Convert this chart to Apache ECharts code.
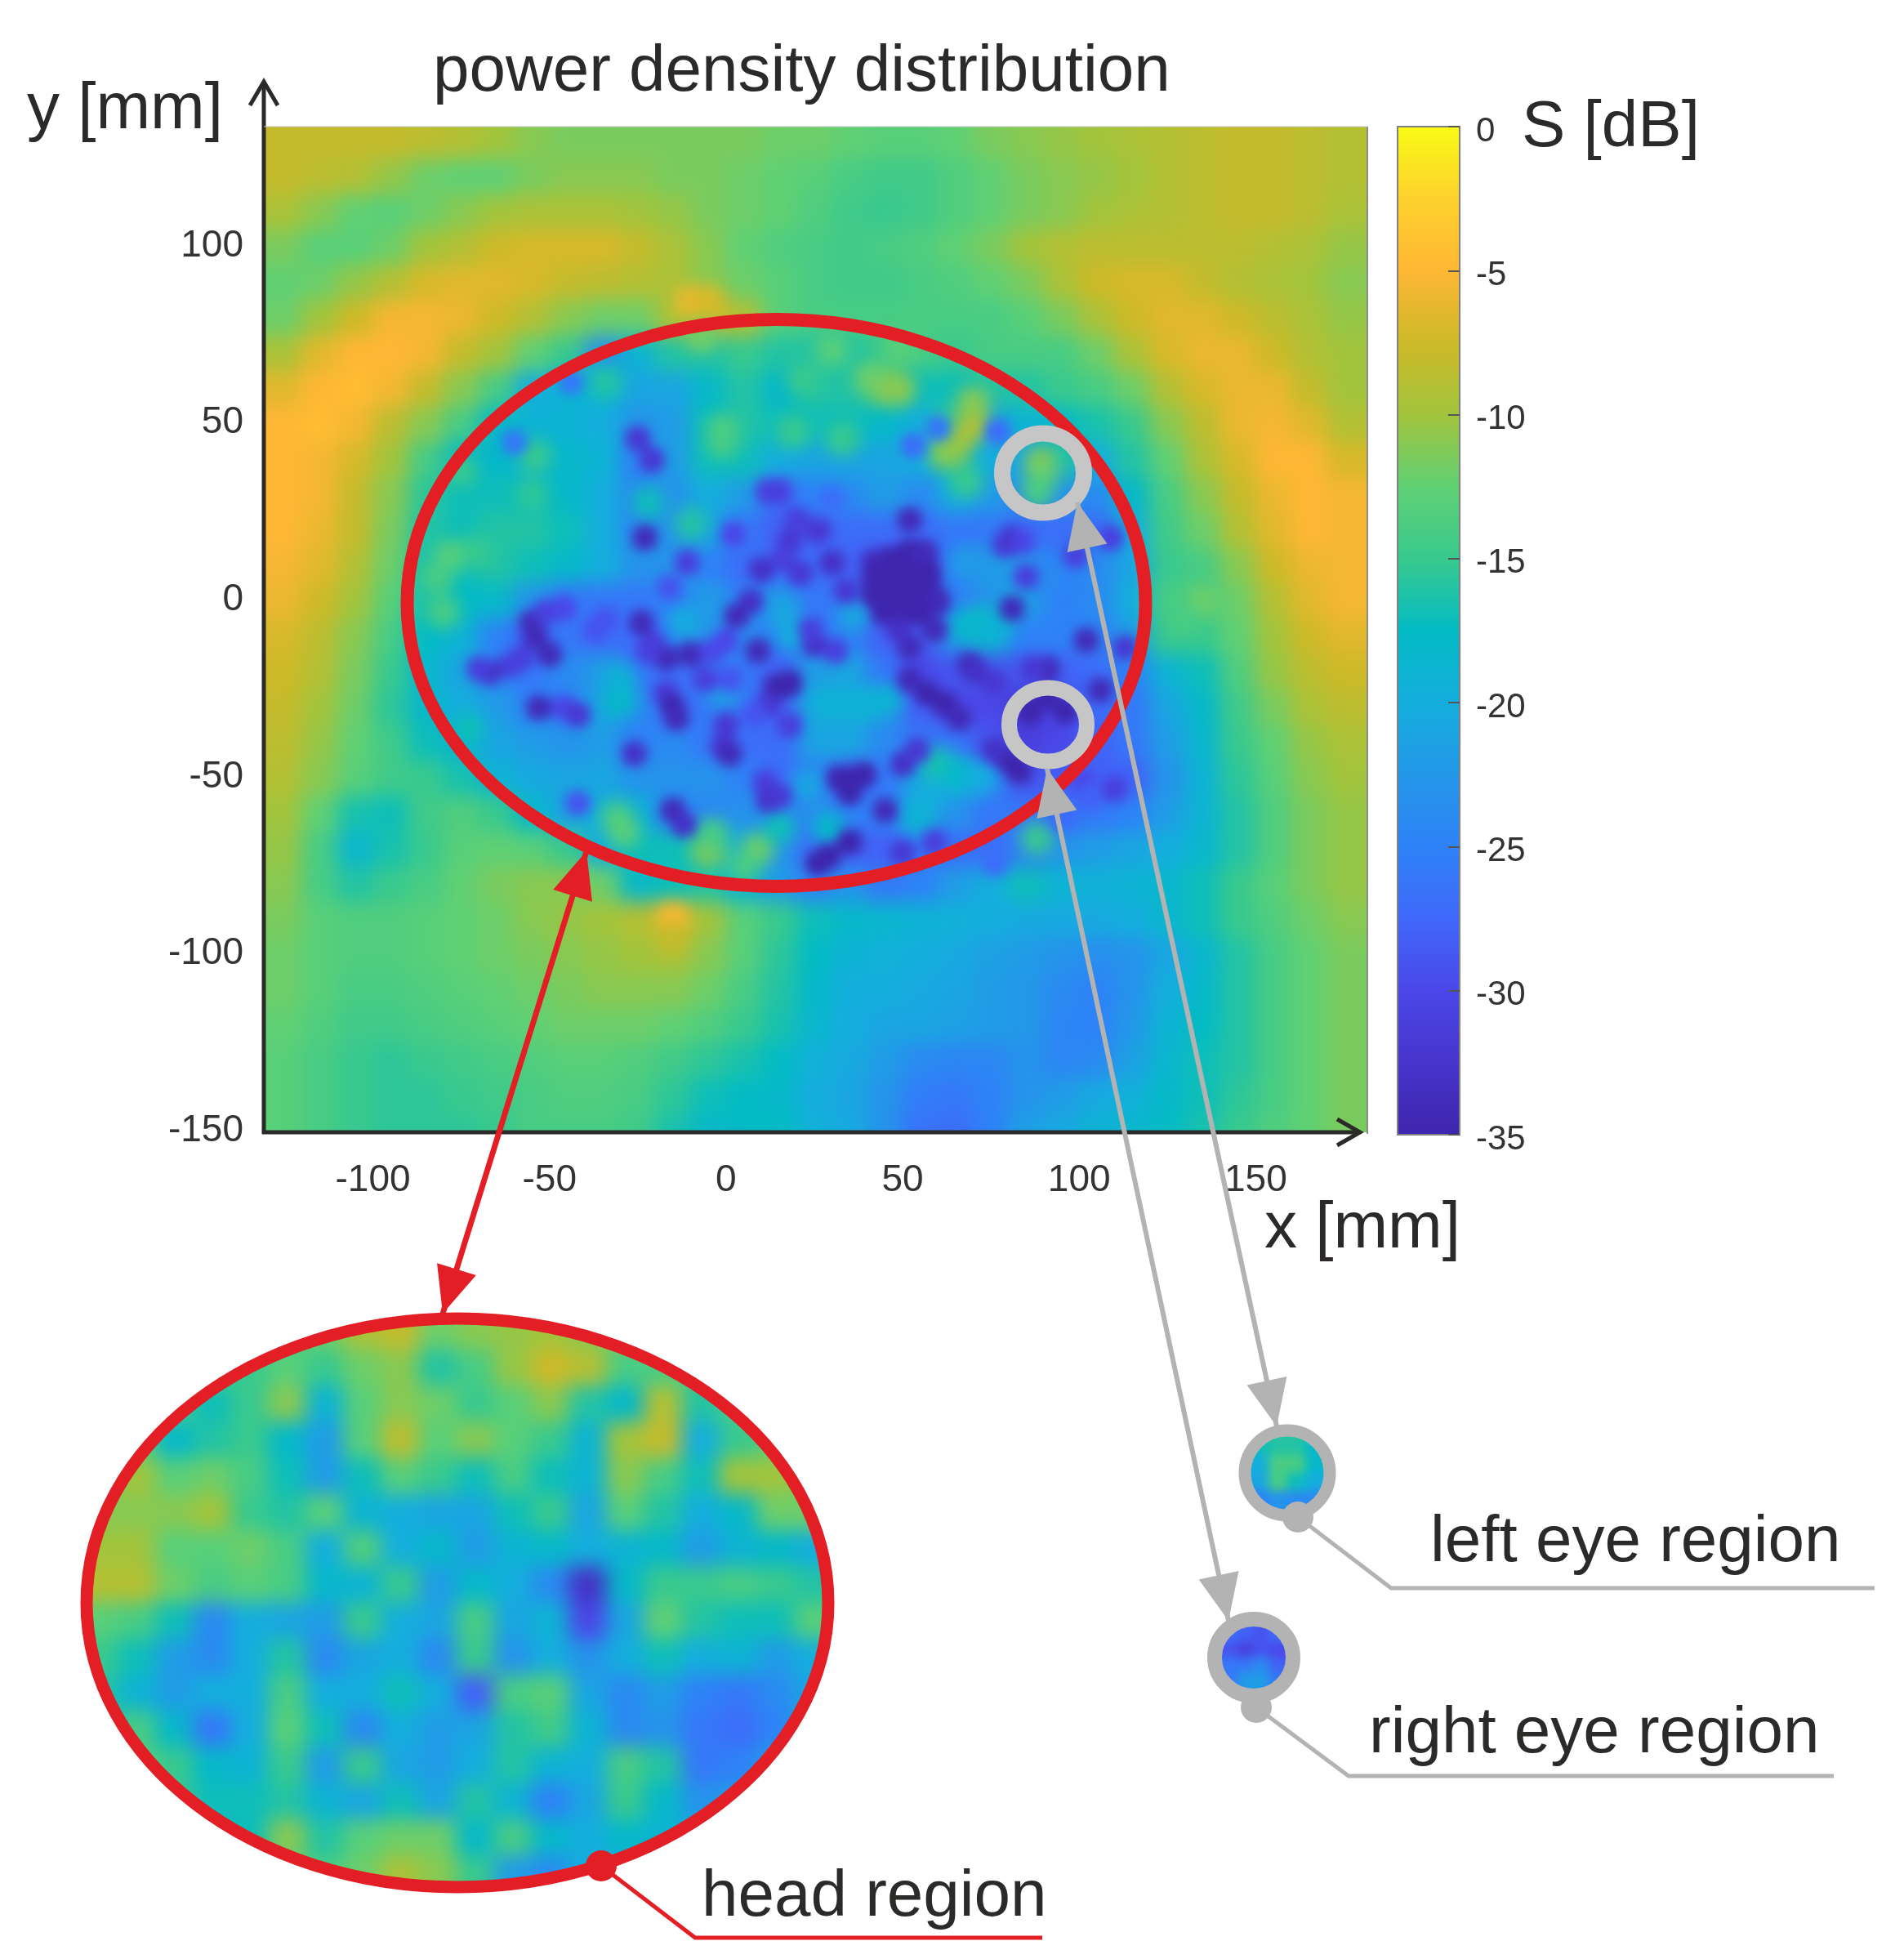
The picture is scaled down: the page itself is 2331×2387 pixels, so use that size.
<!DOCTYPE html>
<html>
<head>
<meta charset="utf-8">
<title>power density distribution</title>
<script src="https://cdn.jsdelivr.net/npm/echarts@6/dist/echarts.min.js"></script>
<style>
html, body { margin: 0; padding: 0; background: #fff; }
.clip, .blur, .chart { position: absolute; left: 0; top: 0; width: 2331px; height: 2387px; }
</style>
</head>
<body>
<div class="clip" style="clip-path: inset(155px 657px 1001px 323px)">
  <div class="blur" style="filter: blur(12px)"><div class="chart" id="field"></div></div>
</div>
<div class="clip" style="clip-path: inset(155px 657px 1001px 323px)">
  <div class="blur" style="filter: blur(10px)"><div class="chart" id="glow"></div></div>
</div>
<div class="clip" style="clip-path: inset(155px 657px 1001px 323px)">
  <div class="blur" style="filter: blur(7px)"><div class="chart" id="detail"></div></div>
</div>
<div class="clip" style="clip-path: ellipse(454px 348px at 560px 1962px)">
  <div class="blur" style="filter: blur(12px)"><div class="chart" id="head"></div></div>
</div>
<div class="clip" style="clip-path: path('M 1528 1803 a 48 47 0 1 0 96 0 a 48 47 0 1 0 -96 0 Z M 1493 2029 a 42 40 0 1 0 84 0 a 42 40 0 1 0 -84 0 Z')">
  <div class="blur" style="filter: blur(6px)"><div class="chart" id="eyes"></div></div>
</div>
<div class="chart" id="front"></div>

<script>
// tick labels
var xTicks = [-100, -50, 0, 50, 100, 150];
var yTicks = [-150, -100, -50, 0, 50, 100];

// colour bar, dB, every 2.5 from -35 up to 0
var barColors = ['#3e25ad', '#4734cc', '#4a47e8', '#4068fa', '#2e82f7', '#2397e8', '#14aedd', '#03bbc4',
    '#38c98e', '#60d074', '#a2c43c', '#cdb928', '#ffb734', '#fdd12d', '#f9fb15'];

// power density, 10 mm cells
var fieldX = [-125, -115, -105, -95, -85, -75, -65, -55, -45, -35, -25, -15, -5, 5, 15, 25, 35, 45, 55, 65, 75, 85, 95, 105, 115, 125, 135, 145, 155, 165, 175];
var fieldY = [130, 120, 110, 100, 90, 80, 70, 60, 50, 40, 30, 20, 10, 0, -10, -20, -30, -40, -50, -60, -70, -80, -90, -100, -110, -120, -130, -140, -150];
var fieldDb = [
    [-8, -8, -8, -8, -8.5, -9, -10, -11, -11.5, -11.5, -11.5, -11.5, -11.5, -11.5, -12, -12, -12.5, -13, -13, -12.5, -11.5, -11, -10.5, -10, -9.5, -9, -8.5, -8, -8, -8.5, -9],
    [-8, -8.5, -9, -10.5, -12, -12.5, -12.5, -11.5, -11, -11, -11, -11.5, -11.5, -12, -12.5, -13, -14, -14.5, -14.5, -13.5, -12.5, -11.5, -11, -10.5, -10, -9, -8.5, -8, -8, -8.5, -9],
    [-9.5, -11, -12.5, -13, -12, -11, -10, -9.5, -9.5, -9.5, -10, -10.5, -11.5, -12, -12.5, -13.5, -14.5, -15, -14.5, -13.5, -12.5, -11.5, -11, -10, -9.5, -9, -8.5, -8, -8, -8.5, -9.5],
    [-11.5, -13, -13, -12, -10, -9, -7.5, -7, -7, -7, -8, -9.5, -11, -12.5, -13.5, -14, -14.5, -14, -13.5, -12.5, -11.5, -10, -9, -8.5, -8.5, -8.5, -8.5, -8.5, -9, -9.5, -10.5],
    [-12.5, -12, -10.5, -9, -7, -6.5, -6.5, -7, -8, -8.5, -9, -9.5, -11, -12, -13, -14, -14.5, -14.5, -14, -13.5, -12.5, -11.5, -9.5, -7.5, -7, -7, -8, -9, -9.5, -10, -11],
    [-12, -10, -7.5, -5.5, -5.5, -6, -7.5, -9, -11, -12, -12, -9.5, -7.5, -9, -13, -14, -14, -14, -14, -14, -14, -13, -11.5, -9.5, -7.5, -6.5, -6.5, -7.5, -8.5, -9.5, -10.5],
    [-9.5, -6.5, -5, -5, -5.5, -8, -10, -12.5, -15, -23, -19, -16, -16, -15, -16, -16, -16, -15, -14, -15, -14, -14, -14, -12, -9.5, -7, -6, -6, -7.5, -9, -10],
    [-6.5, -5, -4.5, -5.5, -8, -11, -14, -20, -19, -19, -21, -21, -18, -16, -18, -16, -16, -15, -17, -17, -16, -16, -15, -14, -12, -9, -7, -6, -6, -8, -10],
    [-5, -4.5, -5.5, -8.5, -11, -14, -18, -19, -19, -20, -23, -22, -17, -16, -17, -17, -17, -18, -20, -15, -21, -19, -18, -16.5, -15, -11, -8.5, -6, -5.5, -6.5, -9],
    [-5, -5.5, -7, -10, -14, -18, -18, -19, -18, -19, -25, -22, -17, -17, -20, -21, -21, -21, -20, -17, -20, -21, -16, -20, -16, -12.5, -9.5, -7, -5, -5, -7],
    [-5, -5.5, -8, -11, -15.5, -17, -17, -17, -18, -20, -24, -23, -20, -22, -27, -25, -24, -22, -24, -20, -22, -24, -23, -24, -18, -14, -11, -8, -6, -5, -5.5],
    [-5, -6, -8, -11.5, -16, -17, -16, -16, -17, -20, -24, -23, -21, -26, -28, -28, -27, -27, -27, -26, -26, -27, -27, -27, -20, -14.5, -12, -9, -6.5, -5, -5.5],
    [-5.5, -6.5, -9, -12, -16.5, -17, -16, -17, -18, -20, -23, -23, -25, -27, -27, -27, -28, -30, -32, -25, -22, -23, -25, -24, -21, -15, -14, -11, -7.5, -6, -5.5],
    [-6, -7.5, -10, -13, -16.5, -17.5, -18, -23, -26, -26, -26, -25, -22, -25, -23, -26, -26, -32, -34, -25, -23, -22, -25, -24, -20, -14, -14, -12, -9, -6.5, -5.5],
    [-7, -8.5, -11, -14, -17.5, -19, -25, -28, -26, -27, -27, -26, -23, -24, -25, -26, -25, -28, -28, -23, -19, -25, -25, -25, -22, -15, -15, -12.5, -10, -7.5, -6.5],
    [-7.5, -9, -11.5, -15, -18.5, -21, -25, -26, -24, -22, -26, -27, -26, -26, -28, -22, -21, -26, -30, -29, -29, -29, -28, -27, -25, -19, -17, -13.5, -10.5, -8.5, -7.5],
    [-8, -10, -12, -15.5, -18, -20, -22, -25, -25, -21, -24, -27, -26, -26, -28, -21, -20, -23, -28, -30, -30, -32, -30, -27, -26, -21, -18, -14.5, -11.5, -9.5, -8.5],
    [-8.5, -10.5, -12.5, -14.5, -17, -19, -21, -22, -23, -22, -25, -24, -26, -27, -27, -22, -21, -24, -26, -26, -29, -31, -30, -28, -26, -22, -18.5, -15, -12.5, -10.5, -9.5],
    [-9, -11, -13, -14.5, -15, -16.5, -19, -20.5, -21, -21, -23, -23, -23, -25, -27, -25, -28, -26, -21, -20, -25, -29, -28, -28, -28, -23, -19, -15.5, -13, -11, -10],
    [-10, -12.5, -16.5, -17, -14.5, -13.5, -15, -18, -21, -20, -19, -25, -24, -23, -25, -24, -25, -25, -22, -23, -26, -26, -27, -26, -25, -22, -19, -16, -13.5, -11.5, -10.5],
    [-10.5, -14, -18.5, -16.5, -15, -13, -12.5, -13, -15, -20, -17, -17, -16, -20, -23, -27, -28, -28, -26, -27, -27, -25, -23, -22, -21, -20, -18.5, -16, -13.5, -11.5, -10.5],
    [-11, -14, -16, -15, -14, -12.5, -11.5, -11, -11, -12, -18, -17, -16, -19, -22, -25, -23, -26, -25, -22, -20, -17, -19, -19.5, -19, -18.5, -17, -15, -13, -11.5, -10.5],
    [-11.5, -13, -13.5, -13.5, -13, -12.5, -12, -11, -10.5, -10, -9, -8, -10, -13, -15, -17, -18, -18.5, -19, -19.5, -20, -20.5, -20.5, -20.5, -20, -18.5, -17, -15, -13.5, -12, -11],
    [-12, -13, -13.5, -13.5, -13, -12.5, -12, -11.5, -11, -10.5, -10, -9.5, -11, -13, -15.5, -17.5, -19, -19.5, -20, -20.5, -21.5, -22, -23, -23.5, -23, -21, -18.5, -16, -14, -12.5, -11.5],
    [-12, -13, -14, -14, -13.5, -13, -12.5, -12, -11.5, -11, -11, -11, -12, -14, -16, -18, -20, -20, -20.5, -21, -22, -22.5, -24, -25, -23, -20, -18, -16, -14, -12.5, -11.5],
    [-12.5, -13.5, -14.5, -14.5, -14, -13.5, -13, -12.5, -12, -12, -12, -12.5, -13.5, -15, -16.5, -18.5, -20, -21, -21, -21.5, -22, -22.5, -24.5, -25, -22.5, -19, -17.5, -16, -14, -12.5, -11.5],
    [-13, -14, -15, -15.5, -15, -14.5, -14, -13.5, -13, -13, -13.5, -14.5, -15.5, -16.5, -17.5, -19.5, -20.5, -22, -24, -24.5, -24.5, -23, -24.5, -24, -21.5, -18.5, -17, -16, -14, -12.5, -11.5],
    [-13, -14, -15, -15.5, -15.5, -15, -14.5, -14, -13.5, -13.5, -14, -15.5, -17, -17.5, -18, -20, -21, -23, -25.5, -26, -25, -23, -22, -20.5, -19.5, -18, -17, -15.5, -14, -12.5, -11.5],
    [-13, -14, -15, -15.5, -15.5, -15.5, -15, -14, -14, -14, -14.5, -16.5, -18, -17.5, -17.5, -19.5, -20.5, -23, -26.5, -27, -25, -21.5, -20.5, -19, -18.5, -17.5, -16.5, -15, -13.5, -12.5, -11.5]
];

// small spots on top of the 10 mm cells: x, y, dB
var darkSpots = [
    // big dark patch
    [42, 11, -34], [47, 12, -35], [52, 14, -35], [56, 14, -34], [42, 7, -35], [47, 7, -35], [52, 8, -35], [57, 8, -35],
    [42, 2, -35], [47, 2, -35], [52, 3, -35], [57, 3, -35], [60, 0, -34], [45, -3, -35], [50, -3, -35], [55, -3, -35],
    [59, -8, -34], [52, -13, -34], [49, -8, -33],
    // upper half
    [-25, 46, -32], [-21, 40, -32], [-23, 18, -34], [-11, 11, -31], [2, 19, -30], [12, 31, -31], [10, 9, -33], [7, 0, -33], [-16, 4, -29],
    [52, 23, -34], [15, 31, -31], [20, 23, -31], [26, 20, -32], [18, 17, -32], [16, 12, -31], [21, 8, -32], [30, 11, -33],
    [81, 18, -33], [84, 17, -30], [79, 16, -32], [109, 18, -31], [99, 13, -31], [85, 7, -31], [34, 3, -32],
    // left cluster
    [-55, -6, -34], [-51, -3, -31], [-46, -2, -30], [-54, -10, -34], [-50, -15, -34], [-58, -16, -31], [-61, -18, -31], [-67, -20, -33], [-70, -19, -31],
    [-24, -6, -34], [-34, -5, -29], [-37, -8, -29], [-21, -12, -32], [-17, -16, -34], [-10, -15, -34], [-22, -14, -31],
    [3, -4, -34], [0, -11, -30], [-4, -14, -30], [9, -14, -34], [-6, -22, -31], [1, -22, -29],
    [-53, -30, -34], [-46, -30, -30], [-42, -32, -32], [-17, -26, -32], [-15, -30, -35], [-14, -33, -34], [-26, -43, -33],
    [0, -35, -32], [-1, -41, -32], [1, -43, -34], [14, -24, -34], [12, -29, -32], [8, -32, -29], [11, -51, -31], [12, -56, -33],
    [-15, -59, -34], [-12, -63, -33], [-42, -57, -29],
    // centre and right
    [25, -12, -33], [24, -8, -31], [31, -14, -31], [16, -24, -35], [18, -23, -35], [69, -18, -34], [71, -20, -33], [91, -19, -34], [87, -19, -32],
    [102, -11, -34], [113, -13, -32], [81, -2, -34], [57, -26, -35], [62, -29, -35], [66, -33, -34], [52, -22, -34], [76, -23, -32], [106, -25, -34],
    [91, -27, -35], [86, -31, -35], [96, -31, -35], [80, -45, -35], [83, -48, -35], [76, -42, -33],
    [36, -50, -35], [32, -50, -35], [39, -49, -35], [35, -54, -35], [45, -59, -34], [50, -46, -33], [54, -42, -32], [15, -55, -32], [18, -35, -31],
    [29, -72, -35], [35, -68, -35], [26, -74, -35], [50, -71, -32], [59, -68, -31], [110, -53, -31], [101, -51, -30],
    // small blue marks near the rim
    [-60, 45, -26], [-44, 62, -26], [60, 49, -26], [53, 44, -27], [77, 48, -27], [30, 29, -27], [103, -55, -28], [95, -61, -27], [76, -74, -27]
];
var lightSpots = [
    [-10, 22, -16], [-22, 28, -17], [-1, 48, -13], [-1, 45, -14], [-7, 75, -12], [-34, 62, -16], [-55, 30, -15.5], [-54, 41, -15],
    [-78, 13, -13], [-82, 7, -14], [-71, 14, -15], [-75, 37, -15], [-80, -3, -14],
    [45, 61, -9.5], [41, 63, -12], [49, 60, -11], [70, 50, -9], [70, 56, -11], [65, 44, -9.5], [62, 42, -11], [68, 34, -15],
    [89, 39, -11], [89, 35, -12], [88, 31, -14], [19, 48, -15], [33, 46, -15], [22, 63, -15], [30, 71, -13], [49, 72, -13],
    [68, 11, -22], [80, 5, -22], [91, 7, -24],
    [-30, -28, -17.5], [-30, -22, -19], [-12, -6, -20], [-1, -26, -22], [-31, -61, -14], [-29, -65, -13], [-5, -70, -11], [9, -70, -12], [-4, -66, -14], [5, -75, -14], [-73, -36, -17],
    [71, -6, -16.5], [68, -7, -18], [76, -6, -19], [39, -29, -19], [29, -29, -19], [45, -28, -19], [28, -38, -21], [60, -46, -16.5], [66, -49, -18], [72, -50, -20], [57, -55, -20],
    [23, -52, -21], [29, -64, -18], [15, -64, -17], [54, -61, -19], [19, -9, -20], [36, -4, -21], [16, -3, -21], [88, -67, -15],
    [-10, 85, -6], [-5, 85, -7], [-15, -90, -5], [-15, -95, -8], [135, 0, -12], [130, -5, -14]
];

// the head again, on its own scale, 20 by 16 cells
var headDb = [
    [-14, -14, -14, -14, -14, -14, -12, -9.5, -8, -12, -11, -10.5, -10, -11, -12, -13, -13, -13, -13, -13],
    [-14, -14, -14, -14, -15, -13, -15, -12, -11, -16, -14, -10.5, -7.5, -9, -14, -14, -14, -14, -14, -14],
    [-14, -14, -14, -17, -15, -11, -19, -13, -11, -12, -15, -13, -11, -16, -18, -9, -16, -14, -14, -14],
    [-13, -13, -18, -16, -15, -18, -22, -13, -8.5, -13, -11, -13, -15, -19, -10, -8, -20, -15, -13, -13],
    [-12, -10, -13, -12, -14, -17, -22, -17, -13, -15, -17, -14, -17, -19, -11, -14, -17, -10, -10, -12],
    [-11, -11, -11, -10, -15, -16, -13, -19, -20, -21, -21, -17, -15, -21, -13, -16, -20, -18, -12, -12],
    [-10, -10, -13, -13, -12, -14, -20, -13.5, -20, -18, -22, -19, -18, -20, -19, -18, -22, -19, -18, -20],
    [-9, -9, -12, -14, -13, -14, -18, -19, -15, -22, -18, -20, -24, -33, -18, -15, -15, -14, -15, -16],
    [-13, -14, -17, -24, -20, -21, -22, -15, -20, -21, -14, -21, -19, -30, -21, -12.5, -16, -17, -17, -13],
    [-15, -17, -22, -24, -20, -16, -24, -21, -20, -24, -15, -23, -20, -23, -20, -17, -20, -19, -22, -20],
    [-16, -19, -22, -20, -20, -14, -20, -20, -17, -20, -28, -14, -13, -21, -24, -22, -25, -26, -24, -21],
    [-16, -14, -18, -26, -20, -13, -17, -24, -20, -22, -21, -16, -14.5, -19, -24, -23, -26, -27, -25, -20],
    [-16, -13, -15, -18, -19, -15, -22, -15, -21, -22, -20, -16, -19, -20, -14, -16, -26, -25, -22, -18],
    [-16, -16, -15, -17, -17, -16, -19, -21, -17, -21, -16, -19, -25, -21, -15, -18, -23, -22, -20, -18],
    [-17, -17, -16, -18, -17, -11, -16, -13, -12, -12, -18, -14, -18, -20, -18, -19, -20, -20, -20, -20],
    [-17, -17, -16, -16, -15, -13, -14, -12, -9.5, -11, -15, -22, -24, -20, -20, -20, -20, -20, -20, -20]
];
var headCols = [0, 1, 2, 3, 4, 5, 6, 7, 8, 9, 10, 11, 12, 13, 14, 15, 16, 17, 18, 19];
var headRows = [0, 1, 2, 3, 4, 5, 6, 7, 8, 9, 10, 11, 12, 13, 14, 15];

// the two eyes, 4 by 4 cells
var eyeCols = [0, 1, 2, 3];
var eyeRows = [0, 1, 2, 3];
var leftEyeDb = [
    [-17, -16, -16, -18],
    [-20, -14, -14, -18],
    [-21, -14, -17, -20],
    [-25, -23, -24, -24]
];
var rightEyeDb = [
    [-27, -28, -29, -27],
    [-29, -31, -29, -30],
    [-26, -26, -24, -28],
    [-26, -22, -22, -26]
];

var FONT = '"Liberation Sans", Arial, sans-serif';
var INK = '#2b2a29';
var RED = '#e31e24';
var GREY = '#b3b3b3';
var PLOT = {left: 323, top: 155, width: 1351, height: 1231};
var X_RANGE = [-130.9, 181.6];
var Y_RANGE = [-150, 134.2];

function colorMap() {
    return {show: false, min: -35, max: 0, dimension: 2, seriesIndex: 'all', inRange: {color: barColors}};
}

function hiddenAxis(range, index) {
    return {type: 'value', show: false, min: range[0], max: range[1], gridIndex: index || 0, splitLine: {show: false}};
}

// every cell is one rect through the axes; edge cells get stretched so the blur has no pale rim
function cellSeries(rows, xs, ys, cw, ch, gridIndex, bleed) {
    var data = [];
    rows.forEach(function (row, r) {
        row.forEach(function (v, c) { data.push([xs[c], ys[r], v]); });
    });
    return {
        type: 'custom',
        xAxisIndex: gridIndex,
        yAxisIndex: gridIndex,
        silent: true,
        data: data,
        encode: {x: 0, y: 1},
        renderItem: function (params, api) {
            var x = api.value(0), y = api.value(1);
            var a = api.coord([x - cw / 2, y + ch / 2]);
            var b = api.coord([x + cw / 2, y - ch / 2]);
            var x0 = Math.min(a[0], b[0]) - 0.5, x1 = Math.max(a[0], b[0]) + 0.5;
            var y0 = Math.min(a[1], b[1]) - 0.5, y1 = Math.max(a[1], b[1]) + 0.5;
            if (x === xs[0]) x0 -= bleed;
            if (x === xs[xs.length - 1]) x1 += bleed;
            if (y === ys[0]) y0 -= bleed;
            if (y === ys[ys.length - 1]) y1 += bleed;
            return {type: 'rect', shape: {x: x0, y: y0, width: x1 - x0, height: y1 - y0}, style: {fill: api.visual('color')}};
        }
    };
}

function spotSeries(spots, mm) {
    return {
        type: 'custom',
        silent: true,
        data: spots,
        encode: {x: 0, y: 1},
        renderItem: function (params, api) {
            var a = api.coord([api.value(0) - mm / 2, api.value(1) + mm / 2]);
            var b = api.coord([api.value(0) + mm / 2, api.value(1) - mm / 2]);
            return {type: 'rect', shape: {x: a[0], y: a[1], width: b[0] - a[0], height: b[1] - a[1], r: (b[0] - a[0]) / 2.5}, style: {fill: api.visual('color')}};
        }
    };
}

function spotChart(id, series) {
    var c = echarts.init(document.getElementById(id));
    c.setOption({
        animation: false,
        visualMap: colorMap(),
        grid: PLOT,
        xAxis: hiddenAxis(X_RANGE),
        yAxis: hiddenAxis(Y_RANGE),
        series: series
    });
    return c;
}

spotChart('field', [cellSeries(fieldDb, fieldX, fieldY, 10, 10, 0, 70)]);
spotChart('glow', [spotSeries(lightSpots, 9)]);
spotChart('detail', [spotSeries(darkSpots, 7)]);

var headChart = echarts.init(document.getElementById('head'));
headChart.setOption({
    animation: false,
    visualMap: colorMap(),
    grid: {left: 99, top: 1608, width: 920, height: 708},
    xAxis: hiddenAxis([-0.5, 19.5]),
    yAxis: Object.assign(hiddenAxis([-0.5, 15.5]), {inverse: true}),
    series: [cellSeries(headDb, headCols, headRows, 1, -1, 0, 50)]
});

var eyesChart = echarts.init(document.getElementById('eyes'));
eyesChart.setOption({
    animation: false,
    visualMap: colorMap(),
    grid: [
        {left: 1531, top: 1759, width: 90, height: 88},
        {left: 1496, top: 1992, width: 78, height: 74}
    ],
    xAxis: [hiddenAxis([-0.5, 3.5], 0), hiddenAxis([-0.5, 3.5], 1)],
    yAxis: [Object.assign(hiddenAxis([-0.5, 3.5], 0), {inverse: true}), Object.assign(hiddenAxis([-0.5, 3.5], 1), {inverse: true})],
    series: [
        cellSeries(leftEyeDb, eyeCols, eyeRows, 1, -1, 0, 20),
        cellSeries(rightEyeDb, eyeCols, eyeRows, 1, -1, 1, 20)
    ]
});

// annotation helpers
function line(points, color, width) {
    return {type: 'polyline', silent: true, z: 20, shape: {points: points}, style: {stroke: color, lineWidth: width, fill: null, lineJoin: 'miter'}};
}
function ring(cx, cy, rx, ry, color, width) {
    return {type: 'ellipse', silent: true, z: 20, shape: {cx: cx, cy: cy, rx: rx, ry: ry}, style: {stroke: color, lineWidth: width, fill: null}};
}
function dot(cx, cy, r, color) {
    return {type: 'circle', silent: true, z: 21, shape: {cx: cx, cy: cy, r: r}, style: {fill: color}};
}
function label(text, x, y) {
    return {type: 'text', silent: true, z: 22, style: {x: x, y: y, text: text, font: '80px ' + FONT, fill: INK, verticalAlign: 'middle'}};
}
function head(tip, from, color) {
    var dx = from[0] - tip[0], dy = from[1] - tip[1];
    var len = Math.sqrt(dx * dx + dy * dy);
    var ux = dx / len, uy = dy / len;
    var bx = tip[0] + ux * 57, by = tip[1] + uy * 57;
    return {type: 'polygon', silent: true, z: 21, shape: {points: [tip, [bx - uy * 25, by + ux * 25], [bx + uy * 25, by - ux * 25]]}, style: {fill: color}};
}
function doubleArrow(a, b, color, width) {
    return [line([a, b], color, width), head(a, b, color), head(b, a, color)];
}

var annotations = [].concat(
    [
        line([[323, 1388], [323, 101]], INK, 5),
        line([[306, 129], [323, 100], [340, 129]], INK, 5),
        line([[321, 1386], [1665, 1386]], INK, 5),
        line([[1637, 1370], [1665, 1386], [1637, 1402]], INK, 5),
        line([[1674, 155], [1674, 1388]], '#8c8c8c', 2),
        line([[323, 155], [1674, 155]], '#c4c4c4', 1),

        ring(950.5, 738, 452, 347, RED, 16),
        ring(1277, 579, 50, 48.5, '#c6c6c6', 20),
        ring(1283, 887, 47.5, 45, '#c6c6c6', 19),
        ring(560, 1962, 454, 348, RED, 15),
        ring(1576, 1803, 52, 52, GREY, 15),
        ring(1535, 2029, 48, 47, GREY, 18),

        dot(736, 2284, 19, RED),
        line([[736, 2284], [851, 2372], [1276, 2372]], RED, 5),
        dot(1589, 1857, 19, GREY),
        line([[1589, 1857], [1703, 1944], [2295, 1944]], GREY, 5),
        dot(1538, 2090, 19, GREY),
        line([[1538, 2090], [1651, 2174], [2245, 2174]], GREY, 5),

        label('y [mm]', 33, 135),
        label('x [mm]', 1548, 1505),
        label('left eye region', 1751, 1889),
        label('right eye region', 1676, 2123),
        label('head region', 859, 2323),
        label('S [dB]', 1863, 157)
    ],
    doubleArrow([718, 1042], [542, 1608], RED, 7),
    doubleArrow([1319, 615], [1563, 1746], GREY, 6),
    doubleArrow([1282, 941], [1504, 1984], GREY, 6)
);

var frontChart = echarts.init(document.getElementById('front'));
frontChart.setOption({
    animation: false,
    textStyle: {fontFamily: FONT, color: '#333'},
    title: {
        text: 'power density distribution',
        left: 530,
        top: 49,
        padding: 0,
        textStyle: {fontSize: 80, fontWeight: 'normal', fontFamily: FONT, color: INK}
    },
    visualMap: {
        type: 'continuous',
        min: -35,
        max: 0,
        left: 1711,
        top: 155,
        padding: 0,
        itemWidth: 76,
        itemHeight: 1234,
        calculable: false,
        hoverLink: false,
        showLabel: false,
        text: null,
        z: 1,
        seriesIndex: [],
        inRange: {color: barColors}
    },
    grid: [
        PLOT,
        {left: 1711, top: 155, width: 76, height: 1234, show: true, borderColor: '#808080', borderWidth: 2, backgroundColor: 'transparent', z: 5}
    ],
    xAxis: [
        {
            type: 'value',
            min: X_RANGE[0],
            max: X_RANGE[1],
            axisLine: {show: false},
            axisTick: {show: false},
            splitLine: {show: false},
            axisLabel: {customValues: xTicks, fontSize: 46, color: '#333', fontFamily: FONT, margin: 36}
        },
        {gridIndex: 1, type: 'value', show: false, min: 0, max: 1}
    ],
    yAxis: [
        {
            type: 'value',
            min: Y_RANGE[0],
            max: Y_RANGE[1],
            axisLine: {show: false},
            axisTick: {show: false},
            splitLine: {show: false},
            axisLabel: {customValues: yTicks, fontSize: 46, color: '#333', fontFamily: FONT, margin: 25, verticalAlign: 'bottom', lineHeight: 4}
        },
        {
            gridIndex: 1,
            type: 'value',
            position: 'right',
            min: -35,
            max: 0,
            interval: 5,
            z: 6,
            axisLine: {show: false, onZero: false},
            axisTick: {show: true, inside: true, length: 14, lineStyle: {color: '#555', width: 2}},
            splitLine: {show: false},
            axisLabel: {fontSize: 42, color: '#333', fontFamily: FONT, margin: 20, verticalAlign: 'top', lineHeight: 12}
        }
    ],
    series: [
        {type: 'line', data: [], xAxisIndex: 0, yAxisIndex: 0},
        {type: 'line', data: [], xAxisIndex: 1, yAxisIndex: 1}
    ],
    graphic: annotations
});
</script>
</body>
</html>
